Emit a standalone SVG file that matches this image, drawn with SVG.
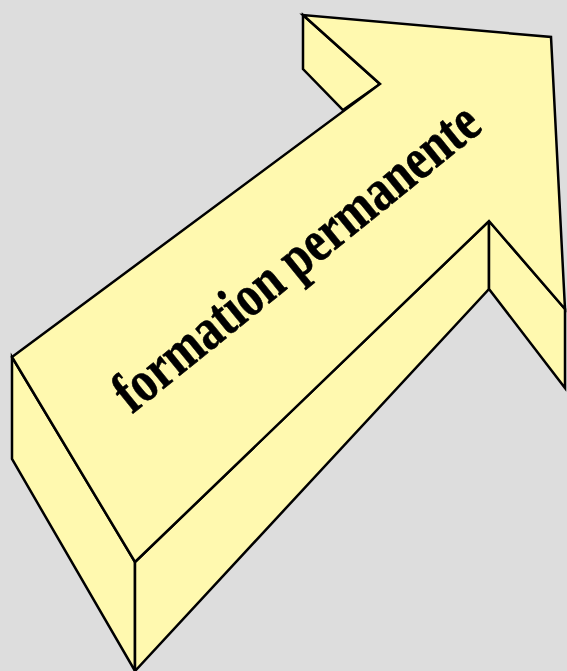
<svg xmlns="http://www.w3.org/2000/svg" width="567" height="671" viewBox="0 0 567 671">
<style>
.face{fill:#FFF9AF;stroke:#000;stroke-width:2.5;stroke-linejoin:miter}
.lbl{font-family:"Liberation Serif","Times New Roman",serif;font-weight:bold;font-size:49px;fill:#000;stroke:#000;stroke-width:0.5}
</style>
<rect width="567" height="671" fill="#DDDDDD"/>
<g id="arrow">
<polygon class="face" points="12,357 12,459 135,671 135,562"/>
<polygon class="face" points="135,562 135,671 489,289 489,221"/>
<polygon class="face" points="489,221 489,289 565,388 565,309"/>
<polygon class="face" points="303,15 303,69 343,110 380,84"/>
<polygon class="face" points="12,357 380,84 303,15 551,37 565,309 489,221 135,562"/>
<text class="lbl" text-anchor="middle" transform="translate(308,272) rotate(-39) scale(0.96,1.2)">formation permanente</text>
</g>
</svg>
